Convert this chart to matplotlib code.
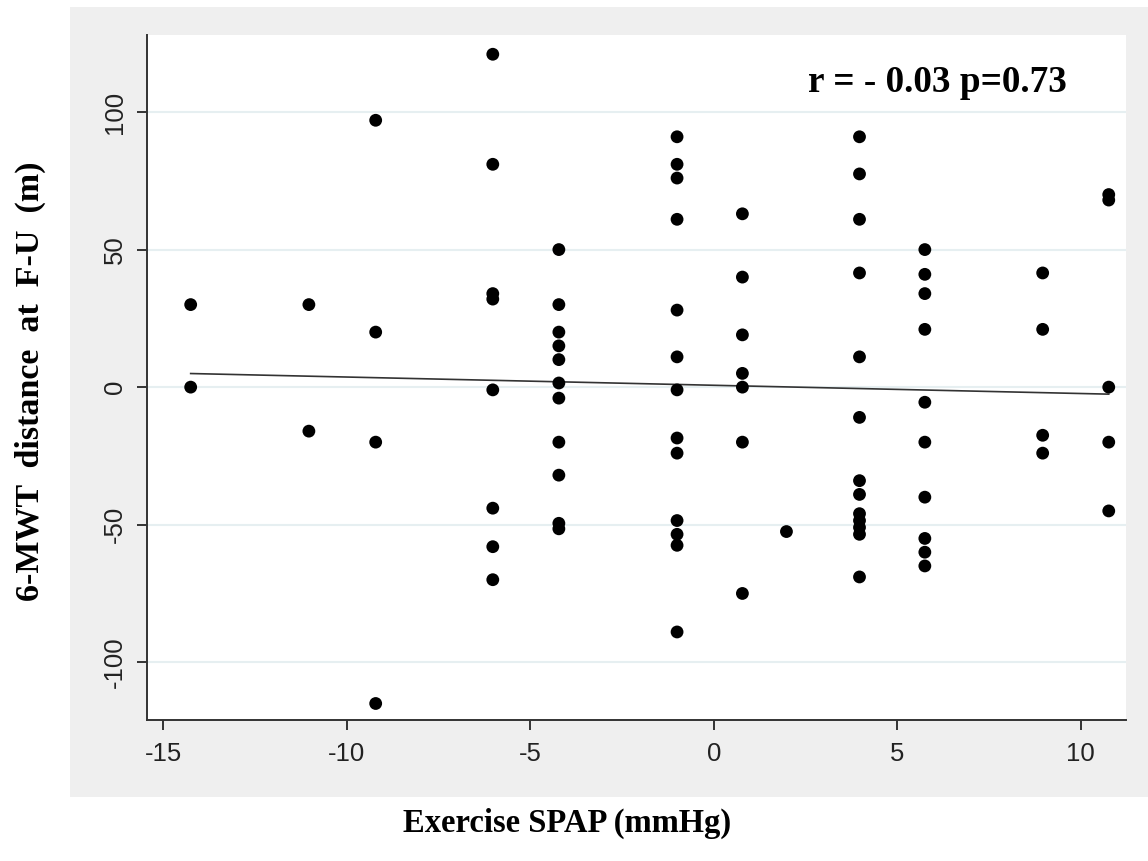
import numpy as np
import matplotlib
matplotlib.use("Agg")
import matplotlib.pyplot as plt
from matplotlib.patches import Rectangle

plt.rcParams["axes.unicode_minus"] = False

# exercise SPAP (centered) and change of 6-MWT distance
spap = [-14.25] * 2 + [-11.03] * 2 + [-9.21] * 4 + [-6.02] * 8 + [-4.22] * 11 \
    + [-1.0] * 13 + [0.78] * 7 + [1.98] + [3.97] * 13 + [5.75] * 10 \
    + [8.96] * 4 + [10.76] * 5
mwt = [30, 0,
       30, -16,
       97, 20, -20, -115,
       121, 81, 34, 32, -1, -44, -58, -70,
       50, 30, 20, 15, 10, 1.5, -4, -20, -32, -49.5, -51.5,
       91, 81, 76, 61, 28, 11, -1, -18.5, -24, -48.5, -53.5, -57.5, -89,
       63, 40, 19, 5, 0, -20, -75,
       -52.5,
       91, 77.5, 61, 41.5, 11, -11, -34, -39, -46, -48.5, -51, -53.5, -69,
       50, 41, 34, 21, -5.5, -20, -40, -55, -60, -65,
       41.5, 21, -17.5, -24,
       70, 68, 0, -20, -45]

x = np.array(spap)
y = np.array(mwt, dtype=float)
b1, b0 = np.polyfit(x, y, 1)

fig = plt.figure(figsize=(11.48, 8.61), dpi=100)
fig.patch.set_facecolor("white")
# grey panel behind the plot region
fig.patches.append(Rectangle((70 / 1148, 64 / 861), 1 - 70 / 1148, 790 / 861,
                             transform=fig.transFigure, facecolor="#efefef",
                             edgecolor="none", zorder=-10))

ax = fig.add_axes([147 / 1148, 141 / 861, 979 / 1148, 685 / 861])
ax.set_zorder(1)
ax.set_facecolor("white")
ax.set_xlim(-15.44, 11.23)
ax.set_ylim(-121, 128)

ax.set_yticks([-100, -50, 0, 50, 100])
ax.set_xticks([-15, -10, -5, 0, 5, 10])
ax.grid(axis="y", color="#e6eff1", linewidth=1.5)
ax.set_axisbelow(True)

for s in ["top", "right"]:
    ax.spines[s].set_visible(False)
for s in ["left", "bottom"]:
    ax.spines[s].set_color("#333333")
    ax.spines[s].set_linewidth(1.4)

ax.tick_params(axis="both", direction="out", length=7.5, width=1.4, color="#333333",
               labelsize=18.5, labelcolor="#222222")
ax.tick_params(axis="x", pad=8)
ax.tick_params(axis="y", pad=7)
for lab in ax.get_yticklabels():
    lab.set_rotation(90)
    lab.set_va("center")
for lab in ax.get_xticklabels() + ax.get_yticklabels():
    lab.set_family("Liberation Sans")

xs = np.array([x.min(), x.max()])
ax.plot(xs, b0 + b1 * xs, color="#333333", linewidth=1.2, zorder=2)
ax.scatter(x, y, s=85, color="black", edgecolors="none", zorder=3)

ax.text(0.675, 0.917, "r = - 0.03 p=0.73", transform=ax.transAxes,
        family="Liberation Serif", fontweight="bold", fontsize=26.8, va="baseline")

fig.text(567 / 1148, 1 - 823 / 861, "Exercise SPAP (mmHg)", family="Liberation Serif",
         fontweight="bold", fontsize=23.5, ha="center", va="center")
fig.text(30 / 1148, 1 - 381 / 861, "6-MWT  distance  at  F-U  (m)", family="Liberation Serif",
         fontweight="bold", fontsize=24.5, ha="center", va="center", rotation=90)

fig.savefig("out.png", dpi=100)
